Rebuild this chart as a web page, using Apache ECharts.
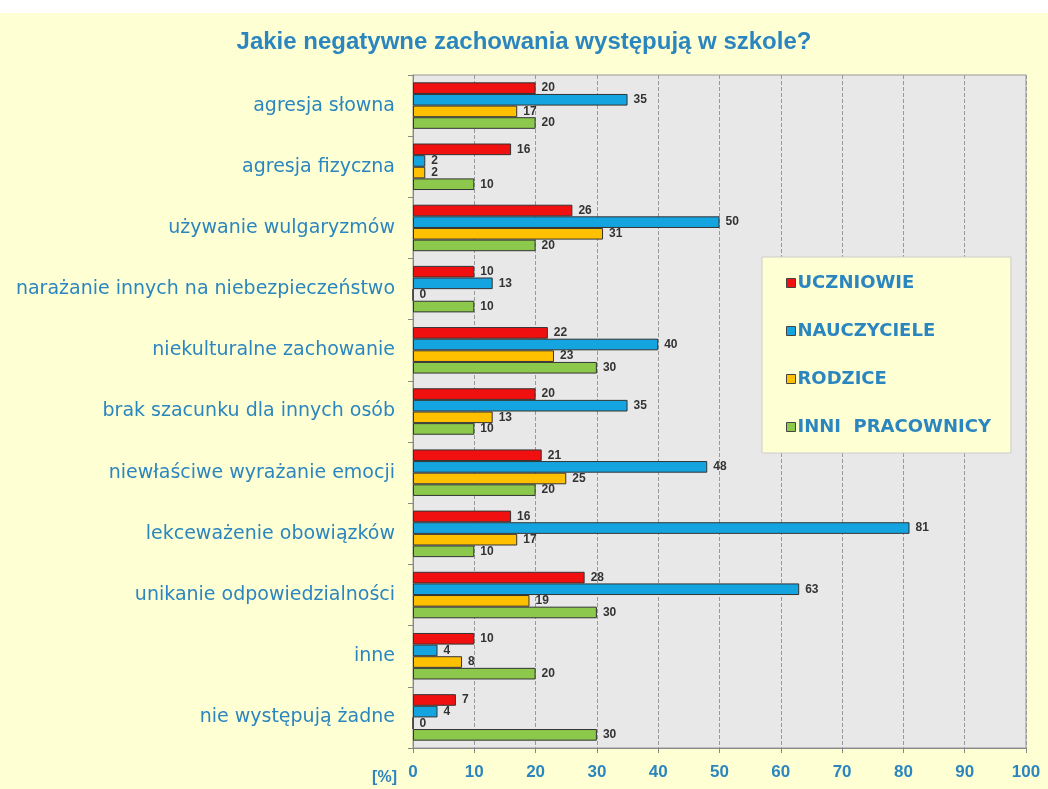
<!DOCTYPE html>
<html><head><meta charset="utf-8">
<script src="https://cdn.jsdelivr.net/npm/echarts@6/dist/echarts.min.js"></script>
<style>html,body{margin:0;padding:0;background:#fff;}#c{position:absolute;left:0;top:13px;width:1048px;height:776px;}</style>
</head><body><div id="c"></div>
<script>
const categories = ['agresja słowna','agresja fizyczna','używanie wulgaryzmów','narażanie innych na niebezpieczeństwo','niekulturalne zachowanie','brak szacunku dla innych osób','niewłaściwe wyrażanie emocji','lekceważenie obowiązków','unikanie odpowiedzialności','inne','nie występują żadne'];
const uczniowie    = [20,16,26,10,22,20,21,16,28,10,7];
const nauczyciele  = [35,2,50,13,40,35,48,81,63,4,4];
const rodzice      = [17,2,31,0,23,13,25,17,19,8,0];
const inni         = [20,10,20,10,30,10,20,10,30,20,30];
const seriesNames  = ['UCZNIOWIE','NAUCZYCIELE','RODZICE','INNI  PRACOWNICY'];
const xTicks = [0,10,20,30,40,50,60,70,80,90,100];

const colors = ['#F01010','#14A5E0','#FFC000','#8CC84B'];
const blue = '#2B86BF';
const chart = echarts.init(document.getElementById('c'));
const mk = (name, data, i) => ({
  name, type:'bar', data, barGap:'0%', barCategoryGap:'24%',
  itemStyle:{color:colors[i], borderColor:'#333', borderWidth:1},
  label:{show:true, position:'right', distance:6, color:'#333', fontSize:12, fontWeight:'bold', fontFamily:'Liberation Sans Narrow, Liberation Sans'}
});
chart.setOption({
  backgroundColor:'#FFFFD4',
  animation:false,
  title:{text:'Jakie negatywne zachowania występują w szkole?', left:'center', top:12,
    textStyle:{color:blue, fontSize:24, fontWeight:'bold', fontFamily:'Liberation Sans'}},
  legend:{orient:'vertical', left:762, top:244, itemWidth:9, itemHeight:9, itemGap:30,
    backgroundColor:'#FFFFD4', borderColor:'#ccc', borderWidth:1, padding:[17,20,17,24],
    icon:'rect',
    textStyle:{color:blue, fontSize:18, fontWeight:'bold', fontFamily:'DejaVu Sans', padding:[0,0,0,-3]},
    data:seriesNames.map((n,i)=>({name:n, itemStyle:{color:colors[i], borderColor:'#444', borderWidth:1}}))},
  grid:{left:413, right:22, top:62, bottom:41, show:true, backgroundColor:'#E8E8E8', borderColor:'#999', borderWidth:1},
  xAxis:{type:'value', min:0, max:100, interval:10,
    axisLine:{show:true, lineStyle:{color:'#888'}}, axisTick:{show:true, lineStyle:{color:'#888'}},
    splitLine:{show:true, lineStyle:{color:'#999', type:'dashed', width:1}},
    axisLabel:{color:blue, fontSize:17, fontWeight:'bold', margin:16, fontFamily:'Liberation Sans Narrow, Liberation Sans',
      formatter:v=>xTicks.includes(v)?String(v):''},
    name:'[%]', nameLocation:'start', nameGap:16,
    nameTextStyle:{color:blue, fontSize:16, fontWeight:'bold', fontFamily:'Liberation Sans', verticalAlign:'top', padding:[22,0,0,0]}},
  yAxis:{type:'category', data:categories, inverse:true,
    axisLine:{show:true, lineStyle:{color:'#888'}}, axisTick:{show:true, lineStyle:{color:'#888'}},
    axisLabel:{color:blue, fontSize:19, margin:18, fontFamily:'DejaVu Sans'}},
  series:[mk(seriesNames[0],uczniowie,0), mk(seriesNames[1],nauczyciele,1), mk(seriesNames[2],rodzice,2), mk(seriesNames[3],inni,3)]
});
</script></body></html>
